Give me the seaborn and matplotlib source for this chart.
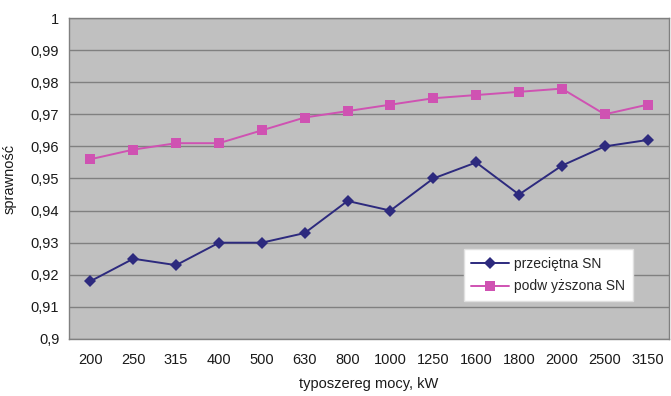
import matplotlib
matplotlib.use("Agg")
import matplotlib.pyplot as plt
import matplotlib.ticker as mticker
import numpy as np
import pandas as pd
import seaborn as sns

# Transformer power ratings (kW) and efficiency of two MV series
ratings = ["200", "250", "315", "400", "500", "630", "800", "1000",
           "1250", "1600", "1800", "2000", "2500", "3150"]
eff_average = [0.918, 0.925, 0.923, 0.930, 0.930, 0.933, 0.943, 0.940,
               0.950, 0.955, 0.945, 0.954, 0.960, 0.962]
eff_raised = [0.956, 0.959, 0.961, 0.961, 0.965, 0.969, 0.971, 0.973,
              0.975, 0.976, 0.977, 0.978, 0.970, 0.973]
series_names = ["przeciętna SN", "podw yższona SN"]

df = pd.DataFrame({
    "moc": ratings * 2,
    "sprawnosc": eff_average + eff_raised,
    "seria": [series_names[0]] * len(ratings) + [series_names[1]] * len(ratings),
})

sns.set_style("white")
plt.rcParams["font.family"] = ["Liberation Sans", "DejaVu Sans"]

fig = plt.figure(figsize=(6.71, 3.96), dpi=100)
ax = fig.add_axes([0.1028, 0.144, 0.8942, 0.8105])
ax.set_facecolor("#c0c0c0")

palette = {series_names[0]: "#2d2a7e", series_names[1]: "#cf52b2"}
markers = {series_names[0]: "D", series_names[1]: "s"}
sns.lineplot(data=df, x="moc", y="sprawnosc", hue="seria", style="seria",
             palette=palette, markers=markers, dashes=False, markersize=6.5,
             markeredgewidth=0, linewidth=1.4, sort=False, ax=ax, zorder=3)

ax.set_ylim(0.9, 1.0)
ax.set_xlim(-0.5, len(ratings) - 0.5)
ax.yaxis.set_major_locator(mticker.MultipleLocator(0.01))


def pl_fmt(v, _):
    s = f"{v:.2f}".rstrip("0").rstrip(".")
    return s.replace(".", ",")


ax.yaxis.set_major_formatter(mticker.FuncFormatter(pl_fmt))
ax.grid(axis="y", color="#808080", linewidth=1.0)
ax.set_axisbelow(True)

# category boundaries carry the tick marks, labels sit at centres
ax.set_xticks(np.arange(len(ratings)))
ax.set_xticklabels(ratings)
ax.set_xticks(np.arange(len(ratings) + 1) - 0.5, minor=True)
ax.tick_params(axis="x", which="major", length=0, pad=10, labelsize=10.5,
               colors="#1a1a1a")
ax.tick_params(axis="x", which="minor", length=4, width=1, color="#808080",
               direction="out")
ax.tick_params(axis="y", which="major", length=4, width=1, color="#808080",
               direction="out", labelsize=10.5, labelcolor="#1a1a1a", pad=3)

for side in ["left", "bottom", "top", "right"]:
    ax.spines[side].set_visible(True)
    ax.spines[side].set_color("#808080")
    ax.spines[side].set_linewidth(1.0)

ax.set_xlabel("typoszereg mocy, kW", fontsize=10.5, color="#1a1a1a", labelpad=7)
ax.set_ylabel("sprawność", fontsize=10.5, color="#1a1a1a", labelpad=10)

leg = ax.legend(loc="lower left", bbox_to_anchor=(0.658, 0.118),
                borderaxespad=0, frameon=True, fancybox=False, fontsize=10,
                handlelength=2.7, borderpad=0.55, labelspacing=0.62,
                handletextpad=0.4, title=None)
leg.get_frame().set_facecolor("white")
leg.get_frame().set_edgecolor("#e0e0e0")
leg.get_frame().set_alpha(1)

fig.savefig("out.png", dpi=100, facecolor="white")
